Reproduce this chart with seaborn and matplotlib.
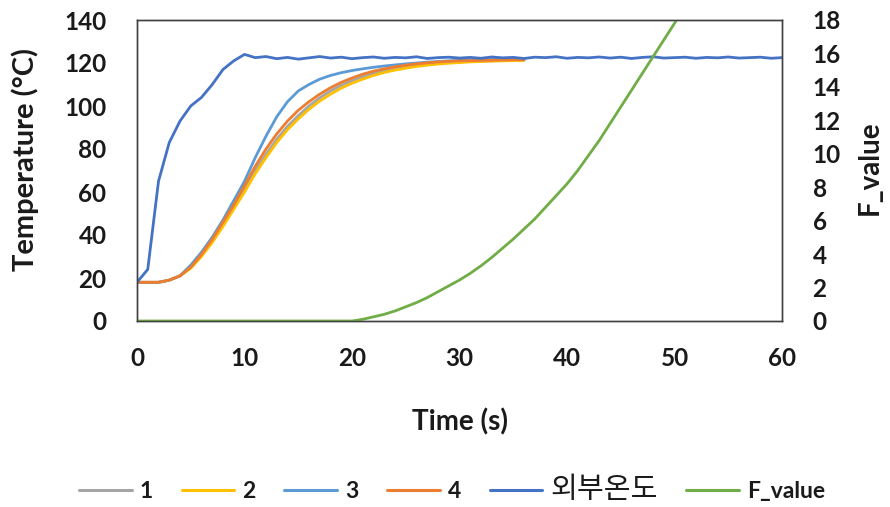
import numpy as np
import pandas as pd
import matplotlib
matplotlib.use("Agg")
import matplotlib.pyplot as plt
import seaborn as sns

# Sensor temperatures (1 s steps, 0..36 s)
time_probe = list(range(0, 37))
temp_1 = [18, 18, 18, 19, 21, 25, 30.5, 37, 45, 53, 61.5, 70, 77.5, 84.5, 90.5, 95.5,
          100, 103.8, 107, 109.6, 111.8, 113.6, 115.2, 116.5, 117.5, 118.3, 119, 119.5,
          119.9, 120.2, 120.5, 120.7, 120.9, 121, 121.1, 121.2, 121.3]
temp_2 = [18, 18, 18, 19, 21, 24.5, 30, 36.5, 44, 52, 60, 68.5, 76, 83, 89, 94,
          98.5, 102.3, 105.5, 108.3, 110.6, 112.5, 114.2, 115.6, 116.7, 117.6, 118.4, 119,
          119.5, 119.9, 120.2, 120.5, 120.7, 120.9, 121, 121.1, 121.2]
temp_3 = [18, 18, 18, 19, 21, 26, 32, 39, 47, 56, 65, 76, 86, 95, 102, 107,
          110, 112.5, 114.2, 115.5, 116.5, 117.3, 118, 118.6, 119.1, 119.6, 120, 120.4,
          120.7, 121, 121.2, 121.4, 121.5, 121.6, 121.7, 121.8, 121.8]
temp_4 = [18, 18, 18, 19, 21, 25, 31, 38, 46, 54, 63, 72, 80, 87, 93, 98,
          102, 105.5, 108.5, 111, 113, 114.8, 116.2, 117.3, 118.2, 119, 119.6, 120.1,
          120.5, 120.8, 121, 121.1, 121.2, 121.3, 121.4, 121.5, 121.5]

# Outside (chamber) temperature, 0..60 s
time_outer = list(range(0, 61))
temp_outer = [18, 24, 65, 83, 93, 100, 104, 110, 117, 121, 124,
              122.5, 123, 122, 122.6, 121.8, 122.4, 123, 122.3, 122.7, 122,
              122.5, 122.8, 122.2, 122.6, 122.4, 122.9, 122.1, 122.5, 122.7, 122.3,
              122.6, 122.2, 122.8, 122.4, 122.6, 122.1, 122.7, 122.5, 122.9, 122.2,
              122.6, 122.4, 122.8, 122.3, 122.7, 122.1, 122.6, 122.9, 122.3, 122.5,
              122.7, 122.2, 122.6, 122.4, 122.8, 122.3, 122.5, 122.7, 122.2, 122.5]

# Lethality F value, 0..51 s
time_f = list(range(0, 52))
f_value = [0] * 21 + [0.1, 0.25, 0.4, 0.6, 0.85, 1.1, 1.4, 1.75, 2.1, 2.45,
                      2.85, 3.3, 3.8, 4.35, 4.9, 5.5, 6.1, 6.8, 7.5, 8.2,
                      9.0, 9.9, 10.8, 11.8, 12.8, 13.8, 14.8, 15.8, 16.8, 17.8, 18.8]

series_labels = ["1", "2", "3", "4", "외부온도"]
series_colors = ["#A5A5A5", "#FFC000", "#5B9BD5", "#ED7D31", "#4472C4"]
f_color = "#70AD47"

x_ticks = [0, 10, 20, 30, 40, 50, 60]
left_ticks = [0, 20, 40, 60, 80, 100, 120, 140]
right_ticks = [0, 2, 4, 6, 8, 10, 12, 14, 16, 18]

sns.set_theme(style="white")
plt.rcParams["font.family"] = ["Lato", "Noto Sans CJK KR", "DejaVu Sans"]
plt.rcParams["font.weight"] = "bold"

frames = []
for lab, t, v in zip(series_labels,
                     [time_probe] * 4 + [time_outer],
                     [temp_1, temp_2, temp_3, temp_4, temp_outer]):
    frames.append(pd.DataFrame({"time": t, "temp": v, "series": lab}))
df = pd.concat(frames, ignore_index=True)
df_f = pd.DataFrame({"time": time_f, "F": f_value})

fig = plt.figure(figsize=(8.9, 5.07), dpi=100)
ax = fig.add_axes([137 / 890, 1 - 321 / 507, 645 / 890, 301 / 507])

sns.lineplot(data=df, x="time", y="temp", hue="series", hue_order=series_labels,
             palette=series_colors, linewidth=2.0, ax=ax, legend=False)
ax2 = ax.twinx()
sns.lineplot(data=df_f, x="time", y="F", color=f_color, linewidth=2.0, ax=ax2,
             legend=False)

ax.set_xlim(0, 60)
ax.set_ylim(0, 140)
ax2.set_ylim(0, 18)
ax.set_xticks(x_ticks)
ax.set_yticks(left_ticks)
ax2.set_yticks(right_ticks)

text_color = "#1a1a1a"
tick_font = dict(fontsize=17.5, fontweight="bold", color=text_color)
ax.set_xticklabels([str(v) for v in x_ticks], **tick_font)
ax.set_yticklabels([str(v) for v in left_ticks], **tick_font)
ax2.set_yticklabels([str(v) for v in right_ticks], **tick_font)
ax.tick_params(axis="both", length=0)
ax.tick_params(axis="y", pad=22)
ax.tick_params(axis="x", pad=19)
ax2.tick_params(axis="y", length=0, pad=22)

title_font = dict(fontsize=20, fontweight="bold", color=text_color)
ax.set_xlabel("Time (s)", **title_font)
ax.set_ylabel("Temperature (°C)", fontsize=21, fontweight="bold", color=text_color)
ax2.set_ylabel("F_value", **title_font)
ax.xaxis.set_label_coords(0.5, -(408 - 321) / 301)
ax.yaxis.set_label_coords(-(137 - 39) / 645, 0.535)
ax2.yaxis.set_label_coords(1 + (857 - 782) / 645, 0.51)

for a in (ax, ax2):
    for sp in a.spines.values():
        sp.set_color("#404040")
        sp.set_linewidth(1.0)
    a.grid(False)

handles = [plt.Line2D([], [], color=c, lw=2.2) for c in series_colors]
handles.append(plt.Line2D([], [], color=f_color, lw=2.2))
labels = series_labels + ["F_value"]
leg = fig.legend(handles, labels, loc="center", bbox_to_anchor=(0.508, 1 - 490 / 507),
                 ncol=6, frameon=False, fontsize=16.5, handlelength=2.3,
                 handletextpad=0.35, columnspacing=1.25)
for txt in leg.get_texts():
    txt.set_fontweight("bold")
    txt.set_color(text_color)
kor = leg.get_texts()[4]
kor.set_fontfamily(["Noto Sans CJK KR", "DejaVu Sans"])
kor.set_fontweight("normal")
kor.set_fontsize(21)

fig.savefig("out.png", dpi=100)
